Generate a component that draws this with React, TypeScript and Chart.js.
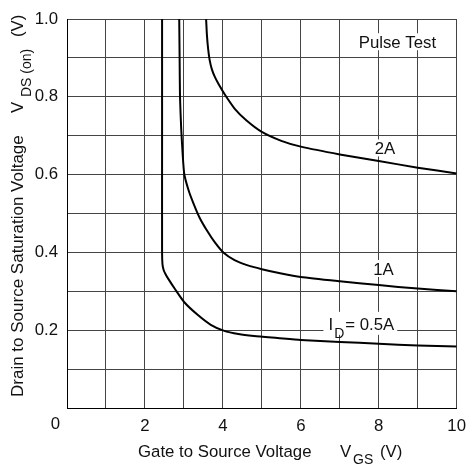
import { useEffect, useRef } from 'react';
import { Chart, registerables } from 'chart.js';

Chart.register(...registerables);

const FONT = '"Liberation Sans", Arial, Helvetica, sans-serif';
const FS = 16.8;

// ID = 0.5 A
const vgs05 = [2.44, 2.44, 2.44, 2.45, 2.48, 2.53, 2.6, 2.77, 3.01, 3.36, 3.69, 4.02, 4.4, 4.8, 5.4, 6, 7, 8, 9, 10];
const vds05 = [1.0, 0.7, 0.4, 0.37, 0.355, 0.344, 0.332, 0.306, 0.272, 0.239, 0.214, 0.199, 0.19, 0.185, 0.18, 0.175, 0.17, 0.165, 0.161, 0.158];

// ID = 1 A
const vgs1 = [2.88, 2.89, 2.9, 2.93, 2.97, 3.01, 3.12, 3.25, 3.4, 3.6, 3.8, 4.02, 4.3, 4.6, 5.0, 5.5, 6, 7, 8, 9, 10];
const vds1 = [1.0, 0.9, 0.8, 0.72, 0.65, 0.601, 0.56, 0.525, 0.49, 0.455, 0.425, 0.399, 0.38, 0.368, 0.357, 0.346, 0.337, 0.326, 0.316, 0.307, 0.3];

// ID = 2 A
const vgs2 = [3.57, 3.59, 3.62, 3.66, 3.72, 3.8, 3.9, 4.05, 4.3, 4.6, 5.0, 5.5, 6.0, 7.0, 8.0, 9.0, 10];
const vds2 = [1.0, 0.96, 0.925, 0.895, 0.87, 0.85, 0.831, 0.806, 0.77, 0.74, 0.71, 0.687, 0.672, 0.652, 0.635, 0.618, 0.603];

// annotation texts (data coordinates: centre x, baseline y)
const noteText = ['Pulse Test', '2A', '1A'];
const noteX = [8.48, 8.16, 8.12];
const noteY = [0.925, 0.652, 0.342];
const idNoteMain = 'I';
const idNoteSub = 'D';
const idNoteRest = '= 0.5A';
const idNoteX = 6.71;
const idNoteY = 0.201;

const xTitle = 'Gate to Source Voltage';
const xTitleSym = 'V';
const xTitleSub = 'GS';
const xTitleUnit = '(V)';
const yTitle = 'Drain to Source Saturation Voltage';
const yTitleSym = 'V';
const yTitleSub = 'DS (on)';
const yTitleUnit = '(V)';

const toPts = (xs: number[], ys: number[]) => xs.map((v, i) => ({ x: v, y: ys[i] }));

const notesPlugin = {
  id: 'notes',
  beforeDatasetsDraw(chart: any) {
    const { ctx, scales } = chart;
    const x = scales.x;
    const y = scales.y;
    ctx.save();
    ctx.font = `${FS}px ${FONT}`;
    ctx.textBaseline = 'alphabetic';
    noteText.forEach((t, i) => {
      const w = ctx.measureText(t).width;
      const cx = x.getPixelForValue(noteX[i]);
      const by = y.getPixelForValue(noteY[i]);
      ctx.fillStyle = '#fff';
      ctx.fillRect(cx - w / 2 - 4, by - 15, w + 8, 17);
      ctx.fillStyle = '#111';
      ctx.textAlign = 'center';
      ctx.fillText(t, cx, by);
    });
    // I_D = 0.5A
    const sx = x.getPixelForValue(idNoteX);
    const by = y.getPixelForValue(idNoteY);
    ctx.textAlign = 'left';
    ctx.font = `${FS}px ${FONT}`;
    const w1 = ctx.measureText(idNoteMain).width;
    ctx.font = `14px ${FONT}`;
    const w2 = ctx.measureText(idNoteSub).width;
    ctx.font = `${FS}px ${FONT}`;
    const w3 = ctx.measureText(idNoteRest).width;
    const total = w1 + 1 + w2 + 1 + w3;
    ctx.fillStyle = '#fff';
    ctx.fillRect(sx - 5, by - 18, total + 8, 23);
    ctx.fillStyle = '#111';
    ctx.fillText(idNoteMain, sx, by);
    ctx.font = `14px ${FONT}`;
    ctx.fillText(idNoteSub, sx + w1 + 1, by + 8);
    ctx.font = `${FS}px ${FONT}`;
    ctx.fillText(idNoteRest, sx + w1 + 1 + w2 + 1, by);
    ctx.restore();
  },
};

const titlesPlugin = {
  id: 'titles',
  afterDraw(chart: any) {
    const { ctx, scales } = chart;
    ctx.save();
    ctx.fillStyle = '#111';
    ctx.textBaseline = 'alphabetic';
    // origin "0" label
    ctx.font = `${FS}px ${FONT}`;
    ctx.textAlign = 'center';
    ctx.fillText('0', scales.x.getPixelForValue(0) - 11.5, 429);
    ctx.textAlign = 'left';
    // x title
    ctx.fillText(xTitle, 138, 457);
    ctx.fillText(xTitleSym, 340, 457);
    ctx.font = `14px ${FONT}`;
    ctx.fillText(xTitleSub, 353, 464);
    ctx.font = `${FS}px ${FONT}`;
    ctx.fillText(xTitleUnit, 380, 457);
    // y title
    ctx.translate(23, 397);
    ctx.rotate(-Math.PI / 2);
    ctx.font = `17px ${FONT}`;
    ctx.fillText(yTitle, 0, 0);
    ctx.font = `${FS}px ${FONT}`;
    ctx.fillText(yTitleSym, 284, 0);
    ctx.font = `14px ${FONT}`;
    ctx.fillText(yTitleSub, 300, 8);
    ctx.font = `${FS}px ${FONT}`;
    ctx.fillText(yTitleUnit, 360, 0);
    ctx.restore();
  },
};

export default function App() {
  const ref = useRef<HTMLCanvasElement>(null);
  useEffect(() => {
    document.body.style.margin = '0';
    const line = { borderColor: '#000', borderWidth: 2, pointRadius: 0, showLine: true, tension: 0.2, fill: false };
    const chart = new Chart(ref.current as HTMLCanvasElement, {
      type: 'scatter',
      data: {
        datasets: [
          { label: '0.5A', data: toPts(vgs05, vds05), ...line },
          { label: '1A', data: toPts(vgs1, vds1), ...line },
          { label: '2A', data: toPts(vgs2, vds2), ...line },
        ],
      },
      options: {
        responsive: false,
        animation: false,
        events: [],
        layout: { padding: { top: 12, right: 11, bottom: 0, left: 0 } },
        plugins: { legend: { display: false }, tooltip: { enabled: false }, title: { display: false } },
        scales: {
          x: {
            type: 'linear',
            min: 0,
            max: 10,
            afterFit: (s: any) => { s.height = 58; },
            grid: { color: '#444', lineWidth: 1, drawTicks: false },
            border: { display: true, color: '#000', width: 1 },
            ticks: {
              stepSize: 1,
              autoSkip: false,
              maxRotation: 0,
              padding: 8,
              color: '#111',
              font: { family: FONT, size: FS },
              callback: (v: any) => {
                const n = Number(v);
                return n > 0 && Math.round(n) % 2 === 0 ? String(Math.round(n)) : '';
              },
            },
          },
          y: {
            type: 'linear',
            min: 0,
            max: 1,
            afterFit: (s: any) => { s.width = 67; },
            grid: { color: '#444', lineWidth: 1, drawTicks: false },
            border: { display: true, color: '#000', width: 1 },
            ticks: {
              stepSize: 0.1,
              autoSkip: false,
              padding: 9,
              color: '#111',
              font: { family: FONT, size: FS },
              callback: (v: any) => {
                const k = Math.round(Number(v) * 10);
                return k > 0 && k % 2 === 0 ? (k / 10).toFixed(1) : '';
              },
            },
          },
        },
      },
      plugins: [notesPlugin, titlesPlugin],
    });
    return () => chart.destroy();
  }, []);
  return (
    <div style={{ width: 474, height: 466 }}>
      <canvas ref={ref} width={474} height={466} style={{ display: 'block' }} />
    </div>
  );
}
